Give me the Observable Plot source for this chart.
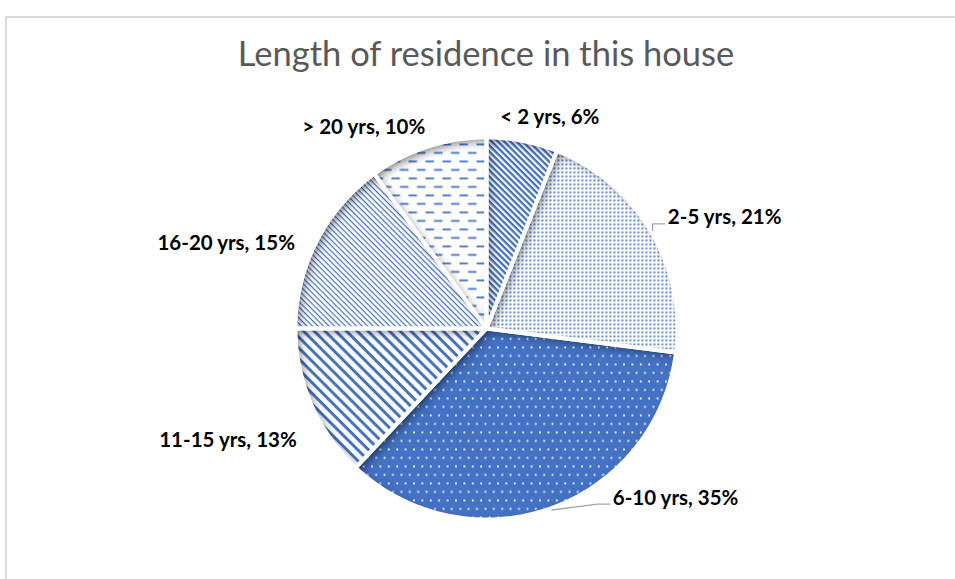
<!DOCTYPE html>
<html>
<head>
<meta charset="utf-8">
<script src="https://cdn.jsdelivr.net/npm/d3@7"></script>
<script src="https://cdn.jsdelivr.net/npm/@observablehq/plot@0.6"></script>
<style>
  html, body { margin: 0; padding: 0; background: #fff; width: 955px; height: 579px; overflow: hidden; }
  #frame { position: absolute; left: 5px; top: 16px; width: 960px; height: 570px;
           border-left: 2px solid #d9d9d9; border-top: 2px solid #d9d9d9; }
  #title { position: absolute; left: 0; top: 31px; width: 972px; text-align: center;
           font-family: Lato, "Open Sans", sans-serif; font-weight: 400; font-size: 34.5px;
           color: #595959; line-height: 44px; }
  #chart { position: absolute; left: 0; top: 90px; }
</style>
</head>
<body>
<div id="frame"></div>
<div id="title">Length of residence in this house</div>
<div id="chart"></div>
<script>
// ---- data ----
const categories = ["< 2 yrs", "2-5 yrs", "6-10 yrs", "11-15 yrs", "16-20 yrs", "> 20 yrs"];
const shares = [6, 21, 35, 13, 15, 10];
const labelTexts = ["< 2 yrs, 6%", "2-5 yrs, 21%", "6-10 yrs, 35%", "11-15 yrs, 13%", "16-20 yrs, 15%", "> 20 yrs, 10%"];

// ---- layout (label placement in polar form relative to the pie, degrees clockwise from 12 o'clock; radius in pie radii) ----
const labelAngle = [16.7, 65.1, 131.9, 246.5, 288.0, 328.6];
const labelRadius = [1.154, 1.375, 1.330, 1.476, 1.433, 1.233];
const hasLeader = [false, true, true, false, false, false];
const patternIds = ["p0", "p1", "p2", "p3", "p4", "p5"];

const W = 955, H = 489, R = 191, CX = 486, CY = 238;
const labelSize = 20.5;
const labelFont = `bold ${labelSize}px Lato`;

// slice outlines
const pie = d3.pie().sort(null).value(d => d)(shares);
const slicePts = [];
pie.forEach((a, i) => {
  const pat = `url(#${patternIds[i]})`;
  slicePts.push({cat: categories[i], pat, x: 0, y: 0});
  const n = Math.max(8, Math.ceil((a.endAngle - a.startAngle) / (Math.PI / 180)));
  for (let k = 0; k <= n; k++) {
    const t = a.startAngle + (a.endAngle - a.startAngle) * k / n;
    slicePts.push({cat: categories[i], pat, x: Math.sin(t), y: Math.cos(t)});
  }
  slicePts.push({cat: categories[i], pat, x: 0, y: 0});
});

// labels
const ctx = document.createElement("canvas").getContext("2d");
ctx.font = labelFont;
const labels = labelTexts.map((t, i) => {
  const a = labelAngle[i] * Math.PI / 180;
  return {text: t, x: labelRadius[i] * Math.sin(a), y: labelRadius[i] * Math.cos(a), w: ctx.measureText(t).width / R};
});

// leader lines: from slice mid-angle on the rim to the left edge of its label
const leaderPts = [];
pie.forEach((a, i) => {
  if (!hasLeader[i]) return;
  const m = (a.startAngle + a.endAngle) / 2;
  const L = labels[i];
  const ex = L.x - L.w / 2 - 3 / R, ey = L.y - 6 / R;
  leaderPts.push({cat: categories[i], x: 1.01 * Math.sin(m), y: 1.01 * Math.cos(m)});
  leaderPts.push({cat: categories[i], x: ex - 12 / R, y: ey});
  leaderPts.push({cat: categories[i], x: ex, y: ey});
});

const chart = Plot.plot({
  width: W, height: H, margin: 0,
  x: {domain: [-CX / R, (W - CX) / R], axis: null},
  y: {domain: [-(H - CY) / R, CY / R], axis: null},
  color: {type: "identity"},
  style: {fontFamily: "Lato, sans-serif", background: "transparent", overflow: "visible"},
  marks: [
    Plot.line(slicePts, {x: "x", y: "y", z: "cat", fill: "pat", stroke: "none", curve: "linear"}),
    Plot.line(slicePts, {x: "x", y: "y", z: "cat", stroke: "white", strokeWidth: 4, strokeLinejoin: "round", curve: "linear"}),
    Plot.line(leaderPts, {x: "x", y: "y", z: "cat", stroke: "#a6a6a6", strokeWidth: 1.3, curve: "linear"}),
    Plot.text(labels, {x: "x", y: "y", text: "text", fontWeight: "bold", fontSize: labelSize, fill: "#000", lineAnchor: "middle"})
  ]
});

const blue = "#4472C4";
d3.select(chart).insert("defs", ":first-child").html(`
  <pattern id="p0" patternUnits="userSpaceOnUse" width="4.4" height="4.4" patternTransform="rotate(45)">
    <rect width="4.4" height="4.4" fill="#fff"/><rect y="0" width="4.4" height="2.3" fill="${blue}"/>
  </pattern>
  <pattern id="p1" patternUnits="userSpaceOnUse" width="4" height="4">
    <rect width="4" height="4" fill="#fff"/><rect x="1" y="1" width="1.8" height="1.8" fill="${blue}"/>
  </pattern>
  <pattern id="p2" patternUnits="userSpaceOnUse" width="8.4" height="17">
    <rect width="8.4" height="17" fill="${blue}"/>
    <rect x="1" y="1" width="1.8" height="1.8" fill="#fff"/>
    <rect x="5.2" y="9.5" width="1.8" height="1.8" fill="#fff"/>
  </pattern>
  <pattern id="p3" patternUnits="userSpaceOnUse" width="7.6" height="7.6" patternTransform="rotate(45)">
    <rect width="7.6" height="7.6" fill="#fff"/><rect y="0" width="7.6" height="3" fill="${blue}"/>
  </pattern>
  <pattern id="p4" patternUnits="userSpaceOnUse" width="3.9" height="3.9" patternTransform="rotate(45)">
    <rect width="3.9" height="3.9" fill="#fff"/><rect y="0" width="3.9" height="1.2" fill="${blue}"/>
  </pattern>
  <pattern id="p5" patternUnits="userSpaceOnUse" width="17" height="17">
    <rect width="17" height="17" fill="#fff"/>
    <rect x="0" y="2" width="8.5" height="1.8" fill="${blue}"/>
    <rect x="8.5" y="10.5" width="8.5" height="1.8" fill="${blue}"/>
  </pattern>
  <filter id="inset" x="-10%" y="-10%" width="120%" height="120%">
    <feFlood flood-color="#000" flood-opacity="0.85" result="f"/>
    <feComposite in="f" in2="SourceAlpha" operator="out" result="o"/>
    <feGaussianBlur in="o" stdDeviation="5" result="b"/>
    <feOffset in="b" dx="4" dy="4" result="bo"/>
    <feComposite in="bo" in2="SourceAlpha" operator="in" result="s"/>
    <feMerge><feMergeNode in="SourceGraphic"/><feMergeNode in="s"/></feMerge>
  </filter>
`);
const lineGroups = chart.querySelectorAll('g[aria-label="line"]');
lineGroups[0].querySelectorAll("path").forEach(p => p.setAttribute("filter", "url(#inset)"));
document.getElementById("chart").appendChild(chart);
</script>
</body>
</html>
